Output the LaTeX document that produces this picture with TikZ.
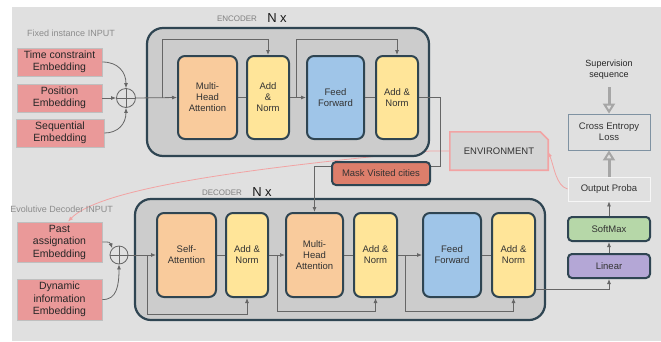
\documentclass[tikz,border=0pt]{standalone}
\usepackage{fontspec}
\setmainfont{Liberation Sans}
\usetikzlibrary{arrows.meta,calc}
\definecolor{bgc}{HTML}{E0E0E0}
\definecolor{dk}{HTML}{2F4552}
\definecolor{cont}{HTML}{CCCCCC}
\definecolor{orng}{HTML}{F9CB9C}
\definecolor{yel}{HTML}{FFE599}
\definecolor{blu}{HTML}{9FC5E8}
\definecolor{grn}{HTML}{B6D7A8}
\definecolor{prp}{HTML}{B4A7D6}
\definecolor{msk}{HTML}{DD7E6B}
\definecolor{pnk}{HTML}{EA9999}
\definecolor{pline}{HTML}{F2A3A3}
\definecolor{wire}{HTML}{666666}
\pgfdeclarelayer{back}
\pgfdeclarelayer{bg}
\pgfsetlayers{back,bg,main}
\tikzset{
  container/.style={draw=dk, line width=2.2pt, fill=cont, rounded corners=16pt, inner sep=0pt},
  block/.style={draw=dk, line width=2pt, rounded corners=7pt, inner sep=1pt, align=center, font=\fontsize{9.5}{11}\selectfont, text=black!80},
  smallblock/.style={draw=dk, line width=2pt, rounded corners=4pt, inner sep=1pt, align=center, font=\fontsize{9.5}{11}\selectfont, text=black!80},
  inbox/.style={draw=black!25, line width=0.8pt, fill=pnk, inner sep=1pt, align=center, font=\fontsize{10.5}{12.5}\selectfont, text=black!85},
  wirel/.style={draw=wire, line width=0.8pt},
  arr/.style={wirel, -{Latex[length=5pt,width=4pt]}},
  plusc/.style={circle, draw=wire, line width=0.8pt, minimum size=19pt, inner sep=0pt},
  pinkarr/.style={draw=pline, line width=0.8pt, -{Latex[length=5pt,width=4pt]}},
  hollow/.style={draw=black!35, line width=3pt, -{Triangle[open, length=10pt, width=12pt, line width=2pt]}},
  lbl/.style={text=black!45, font=\fontsize{9}{10}\selectfont},
  ttl/.style={text=black!50, font=\fontsize{8}{10}\selectfont},
  nx/.style={text=black!90, font=\fontsize{13}{15}\selectfont}
}
\begin{document}
\begin{tikzpicture}[x=1pt,y=-1pt]
\useasboundingbox (0,0) rectangle (661,341);
\begin{pgfonlayer}{back}
\fill[bgc] (12,7) rectangle (661,341);
\end{pgfonlayer}

% input boxes
\node[inbox, minimum width=85pt, minimum height=28pt] (tce) at (59.5,62) {Time constraint\\Embedding};
\node[inbox, minimum width=85pt, minimum height=28pt] (pos) at (59.5,98) {Position\\Embedding};
\node[inbox, minimum width=88pt, minimum height=28pt] (seq) at (60,133) {Sequential\\Embedding};
\node[inbox, minimum width=85pt, minimum height=40pt] (past) at (59.5,242) {Past\\assignation\\Embedding};
\node[inbox, minimum width=85pt, minimum height=41pt] (dyn) at (59.5,299.5) {Dynamic\\information\\Embedding};
\node[plusc] (p1) at (126,98) {};
\draw[wirel] (p1.north) -- (p1.south) (p1.west) -- (p1.east);
\node[plusc, minimum size=18pt] (p2) at (119,255) {};
\draw[wirel] (p2.north) -- (p2.south) (p2.west) -- (p2.east);

\node[lbl] (fixl) at (71,33) {Fixed instance INPUT};
\node[lbl, anchor=east, inner sep=0pt] (evol) at (113,209) {Evolutive Decoder INPUT};

% environment
\node[minimum width=98pt, minimum height=38pt, inner sep=0pt] (env) at (499,151) {};
\fill[bgc!95!black] (env.north west) -- ([xshift=-8pt]env.north east) -- ([yshift=-8pt]env.north east) -- (env.south east) -- (env.south west) -- cycle;
\draw[draw=pline, line width=1.6pt] (env.north west) -- ([xshift=-8pt]env.north east) -- ([yshift=-8pt]env.north east) -- (env.south east) -- (env.south west) -- cycle;
\node[font=\fontsize{9.5}{11}\selectfont, text=black!80] at (env.center) {ENVIRONMENT};

\begin{pgfonlayer}{bg}
\draw[pinkarr] (env.west) -- (430,151) .. controls (250,168) and (100,188) .. (past.north -| 68,0);
\end{pgfonlayer}

% encoder
\node[container, minimum width=282pt, minimum height=128pt] (enc) at (288,92) {};
\node[ttl] (encl) at (237,19) {ENCODER};
\node[nx] (encn) at (277,18) {N x};
\node[block, fill=orng, minimum width=59pt, minimum height=83pt] (eMHA) at (207.5,97.5) {Multi-\\Head\\Attention};
\node[block, fill=yel, minimum width=42pt, minimum height=83pt] (eAN1) at (268,97.5) {Add\\\&\\Norm};
\node[block, fill=blu, minimum width=57pt, minimum height=83pt] (eFF) at (335.5,97.5) {Feed\\Forward};
\node[block, fill=yel, minimum width=42pt, minimum height=83pt] (eAN2) at (397,97.5) {Add \&\\Norm};

\coordinate (es1) at (162,97.5);
\coordinate (es2) at (296,97.5);
\draw[arr] (p1.east) -- (eMHA.west);
\draw[arr] (es1) -- (162,39) -| (eAN1.north);
\draw[wirel] (eMHA.east) -- (eAN1.west);
\draw[arr] (eAN1.east) -- (eFF.west);
\draw[arr] (es2) -- (296,39) -| (eAN2.north);
\draw[wirel] (eFF.east) -- (eAN2.west);
\draw[arr] (pos.east) -- (p1.west);
\draw[arr] (tce.east) .. controls (118,62) and (126,72) .. (p1.north);
\draw[arr] (seq.east) .. controls (118,133) and (126,124) .. (p1.south);

% decoder
\node[container, minimum width=410pt, minimum height=121pt] (dec) at (340,259.5) {};
\node[ttl] (decl) at (222,193) {DECODER};
\node[nx] (decn) at (262,192) {N x};
\node[block, fill=orng, minimum width=59pt, minimum height=84pt] (dSA) at (186.5,255) {Self-\\Attention};
\node[block, fill=yel, minimum width=42pt, minimum height=84pt] (dAN1) at (247,255) {Add \&\\Norm};
\node[block, fill=orng, minimum width=57pt, minimum height=84pt] (dMHA) at (314.5,255) {Multi-\\Head\\Attention};
\node[block, fill=yel, minimum width=43pt, minimum height=84pt] (dAN2) at (375.5,255) {Add \&\\Norm};
\node[block, fill=blu, minimum width=58pt, minimum height=84pt] (dFF) at (452,255) {Feed\\Forward};
\node[block, fill=yel, minimum width=43pt, minimum height=84pt] (dAN3) at (513.5,255) {Add \&\\Norm};

\coordinate (ds1) at (147,255);
\coordinate (ds2) at (277,255);
\coordinate (ds3) at (405,255);
\draw[arr] (p2.east) -- (dSA.west);
\draw[arr] (ds1) -- (147,314) -| (dAN1.south);
\draw[wirel] (dSA.east) -- (dAN1.west);
\draw[arr] (dAN1.east) -- (dMHA.west);
\draw[arr] (ds2) -- (277,311) -| (dAN2.south);
\draw[wirel] (dMHA.east) -- (dAN2.west);
\draw[arr] (dAN2.east) -- (dFF.west);
\draw[arr] (ds3) -- (405,311) -| (dAN3.south);
\draw[wirel] (dFF.east) -- (dAN3.west);
\draw[arr] (past.east) .. controls (110,242) .. (p2.north west);
\draw[arr] (dyn.east) .. controls (117,300) and (119,285) .. (p2.south);

% encoder output to decoder MHA via mask
\draw[arr] (eAN2.east) -- (440,97.5) -- (440,166) -- (314.5,166) -- (dMHA.north);
\node[smallblock, fill=msk, minimum width=98pt, minimum height=23pt, font=\fontsize{9.5}{11}\selectfont] (mask) at (381,173.5) {Mask Visited cities};

% right column
\node[draw=black!20!blu!60!gray, line width=0.8pt, fill=bgc, minimum width=82pt, minimum height=36pt, align=center, font=\fontsize{9.5}{11}\selectfont, text=black!80] (ce) at (609,132) {Cross Entropy\\Loss};
\node[draw=white!70!bgc, line width=0.8pt, fill=bgc, minimum width=82pt, minimum height=24pt, font=\fontsize{9.5}{11}\selectfont, text=black!80] (op) at (609,189) {Output Proba};
\node[smallblock, fill=grn, minimum width=82pt, minimum height=24pt] (sm) at (609,229) {SoftMax};
\node[smallblock, fill=prp, minimum width=82pt, minimum height=24pt] (lin) at (609,266) {Linear};
\node[align=center, font=\fontsize{9}{11}\selectfont, text=black!85] (sup) at (609,70) {Supervision\\sequence};

\coordinate (supb) at (609,87);
\draw[hollow] (supb) -- (ce.north);
\draw[hollow] (op.north) -- (ce.south);
\draw[arr] (sm.north) -- (op.south);
\draw[arr] (lin.north) -- (sm.south);
\coordinate (dout) at ($(dAN3.south east)+(0,-9)$);
\draw[arr] (dout) -| (lin.south);
\draw[pinkarr] (op.west) .. controls (556,186) and (554,166) .. ([yshift=-1pt]env.east);
\end{tikzpicture}
\end{document}
